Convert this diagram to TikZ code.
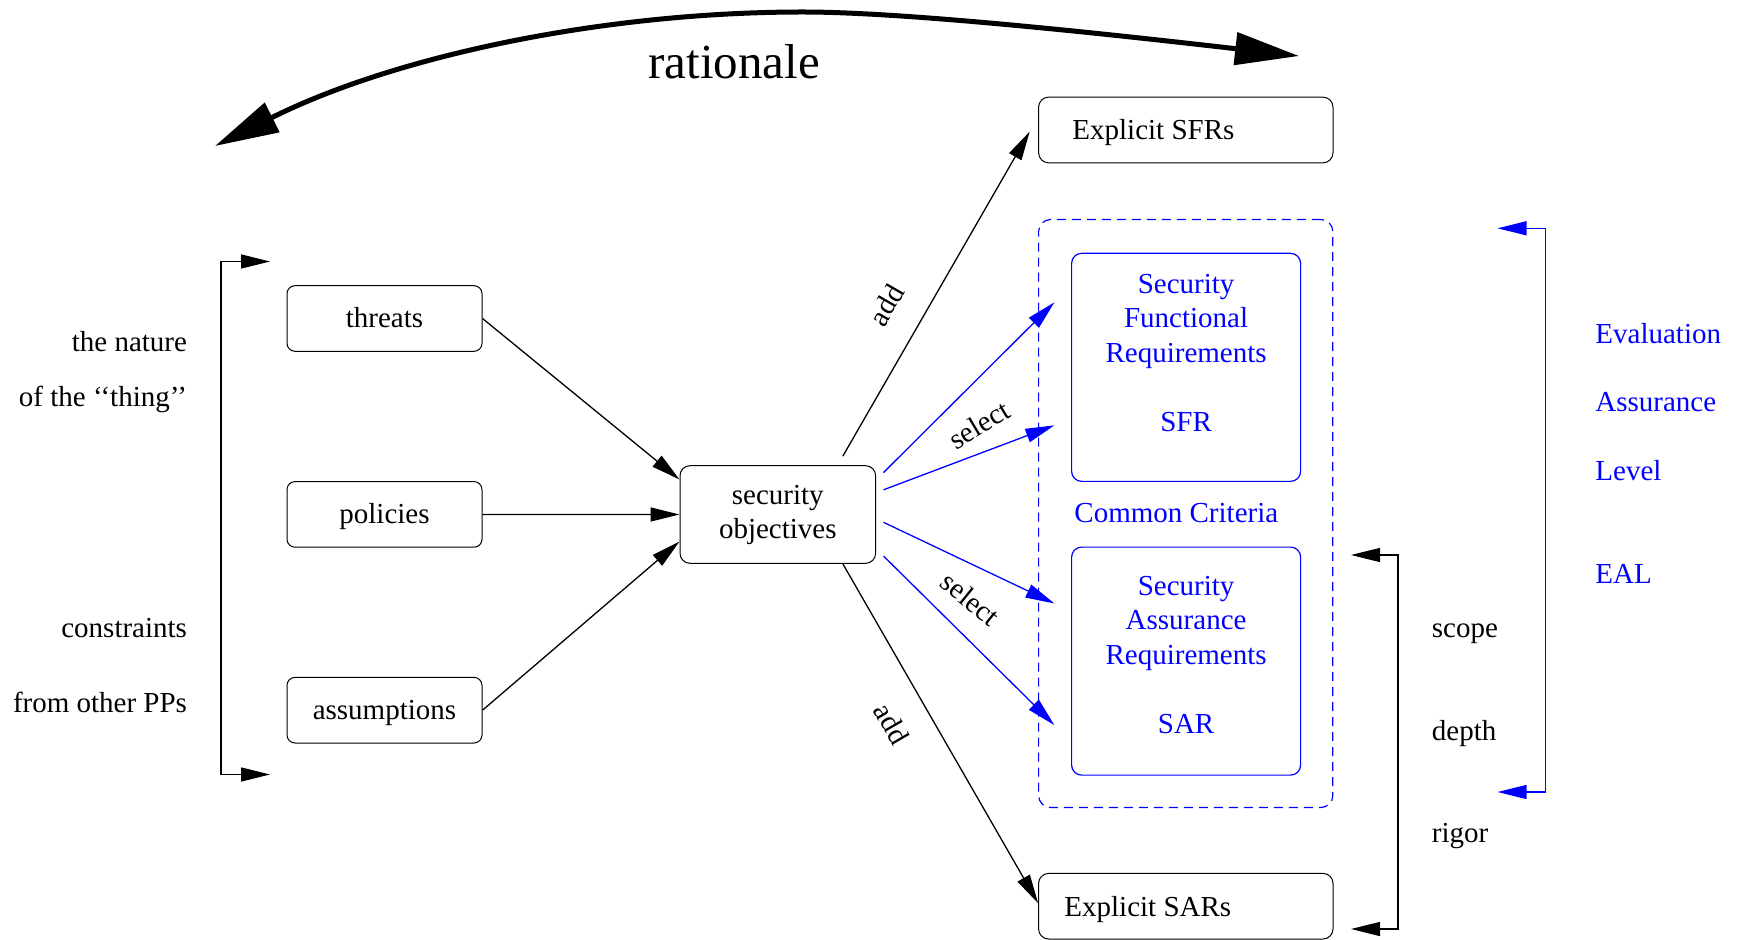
\documentclass[tikz,border=0pt]{standalone}
\usepackage{fontspec}
\setmainfont{Liberation Serif}
\usetikzlibrary{arrows.meta}
\definecolor{ccblue}{RGB}{0,0,255}

\begin{document}
\begin{tikzpicture}[x=0.5pt,y=-0.5pt,
  font=\fontsize{14.5}{17.25}\selectfont,
  box/.style={draw, rounded corners=4pt, line width=0.5pt, inner sep=0pt,
    minimum width=97.5pt, minimum height=32.8pt, text height=9.5pt, text depth=0pt},
  widebox/.style={draw, rounded corners=5pt, line width=0.5pt, inner sep=0pt,
    minimum width=147.2pt, minimum height=32.8pt},
  ccbox/.style={draw=ccblue, rounded corners=5pt, line width=0.6pt, inner sep=0pt,
    minimum width=114.5pt, minimum height=114pt},
  frame/.style={draw=ccblue, dashed, dash pattern=on 4.5pt off 3pt, rounded corners=6pt,
    line width=0.6pt, inner sep=0pt, minimum width=147.1pt, minimum height=294pt},
  lbl/.style={inner sep=0pt},
  cclbl/.style={inner sep=0pt, text=ccblue},
  conn/.style={line width=0.65pt, -{Triangle[length=14.5pt,width=7pt]}},
  sel/.style={conn, draw=ccblue},
  span/.style={line width=0.65pt, {Triangle[length=14.5pt,width=7pt]}-{Triangle[length=14.5pt,width=7pt]}},
  bigspan/.style={line width=2.5pt, {Triangle[length=32pt,width=16pt]}-{Triangle[length=32pt,width=16pt]}}
]
\useasboundingbox (0,0) rectangle (1738,940);

% inputs
\node[box] (threats) at (384.5,318.5) {threats};
\node[box] (policies) at (384.5,514.4) {policies};
\node[box] (assumptions) at (384.5,710.2) {assumptions};

% objectives
\node[draw, rounded corners=5pt, line width=0.5pt, inner sep=0pt,
  minimum width=97.8pt, minimum height=48.8pt] (so) at (777.8,514.5)
  {\begin{tabular}{@{}c@{}}security\\objectives\end{tabular}};

% explicit requirements
\node[widebox] (esfr) at (1185.8,130) {};
\node[lbl, anchor=base west] (esfrtxt) at (1072,140) {Explicit SFRs};
\node[widebox] (esar) at (1185.8,906.2) {};
\node[lbl, anchor=base west] (esartxt) at (1064,916) {Explicit SARs};

% Common Criteria catalogue
\node[frame] (cc) at (1185.7,513.5) {};
\node[ccbox] (sfr) at (1186.1,367.35) {};
\node[ccbox] (sar) at (1186.1,661.1) {};
\node[cclbl, anchor=base] (sfrtxt) at (1186.1,293.5)
  {\begin{tabular}[t]{@{}c@{}}Security\\Functional\\Requirements\\ \\SFR\end{tabular}};
\node[cclbl, anchor=base] (sartxt) at (1186.1,595)
  {\begin{tabular}[t]{@{}c@{}}Security\\Assurance\\Requirements\\ \\SAR\end{tabular}};
\node[cclbl, anchor=base west] (cctxt) at (1074,523) {Common Criteria};

% left annotations
\node[lbl, anchor=base east] (nat1) at (187.4,351.4) {the nature};
\node[lbl, anchor=base east] (nat2) at (187.4,407)
  {of the \symbol{"2018}\symbol{"2018}thing\symbol{"2019}\symbol{"2019}};
\node[lbl, anchor=base east] (con1) at (187.4,637) {constraints};
\node[lbl, anchor=base east] (con2) at (187.4,712) {from other PPs};

% right annotations
\node[lbl, anchor=base west] (scope) at (1431.5,637.5) {scope};
\node[lbl, anchor=base west] (depth) at (1431.5,740) {depth};
\node[lbl, anchor=base west] (rigor) at (1431.5,842.5) {rigor};
\node[cclbl, anchor=base west] (eal1) at (1595,343.5) {Evaluation};
\node[cclbl, anchor=base west] (eal2) at (1595,412) {Assurance};
\node[cclbl, anchor=base west] (eal3) at (1595,480.5) {Level};
\node[cclbl, anchor=base west] (eal4) at (1595,583) {EAL};

% rationale
\node[lbl, anchor=base, font=\fontsize{24.5}{29}\selectfont] (rat) at (734,78.3) {rationale};
\coordinate (ratL) at (215,146);
\coordinate (ratR) at (1299,56);
\draw[bigspan] (ratL) .. controls (395,56) and (603,12) .. (803,12)
  .. controls (903,12) and (1099,33) .. (ratR);

% inputs to objectives
\draw[conn] (threats.east) -- ([yshift=17.5pt]so.west);
\draw[conn] (policies.east) -- (so.west);
\draw[conn] (assumptions.east) -- ([yshift=-13.5pt]so.west);

% objectives to requirements
\draw[conn] ([xshift=32.5pt,yshift=4.5pt]so.north) -- ([xshift=-4.2pt,yshift=-0.8pt]esfr.west);
\draw[conn] ([xshift=32.5pt]so.south) -- ([yshift=1.5pt]esar.west);
\node[lbl, rotate=60] (addup) at (886.3,305) {add};
\node[lbl, rotate=-60] (adddown) at (892,724) {add};

\draw[sel] ([xshift=3.7pt,yshift=20.95pt]so.east) -- ([xshift=-8.3pt,yshift=32.5pt]sfr.west);
\draw[sel] ([xshift=3.7pt,yshift=12.35pt]so.east) -- ([xshift=-8.3pt,yshift=-29pt]sfr.west);
\draw[sel] ([xshift=3.7pt,yshift=-3.9pt]so.east) -- ([xshift=-8.3pt,yshift=28.8pt]sar.west);
\draw[sel] ([xshift=3.7pt,yshift=-20.75pt]so.east) -- ([xshift=-8.3pt,yshift=-32pt]sar.west);
\node[lbl, rotate=31] (selup) at (979.2,424.7) {select};
\node[lbl, rotate=-39] (seldown) at (970.3,598.9) {select};

% brackets
\coordinate (lbTop) at (270,261.5);
\coordinate (lbSpine) at (221,500);
\coordinate (lbBot) at (270,774.5);
\draw[span] (lbTop) -| (lbSpine) |- (lbBot);

\coordinate (rbTop) at (1351,555);
\coordinate (rbSpine) at (1398,700);
\coordinate (rbBot) at (1351,929);
\draw[span] (rbTop) -| (rbSpine) |- (rbBot);

\coordinate (ebTop) at (1497.5,228.3);
\coordinate (ebSpine) at (1545.7,500);
\coordinate (ebBot) at (1497.5,792);
\draw[span, draw=ccblue] (ebTop) -| (ebSpine) |- (ebBot);
\end{tikzpicture}
\end{document}
